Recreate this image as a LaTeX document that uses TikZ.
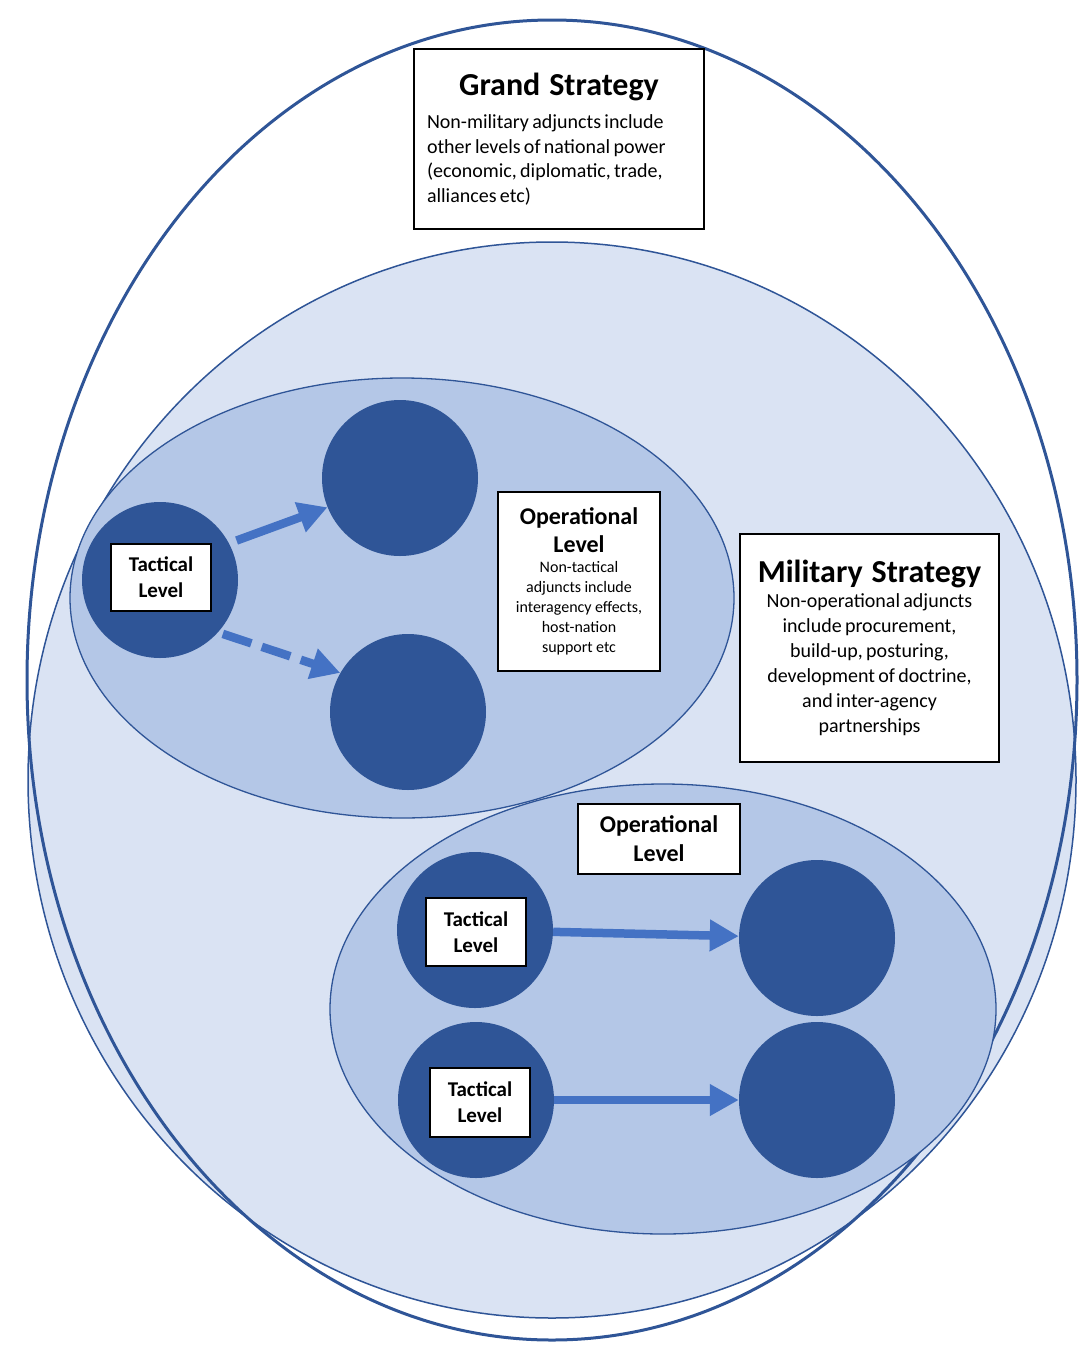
\documentclass[tikz,border=0pt]{standalone}
\usepackage{fontspec}
\setmainfont{Carlito}
\usetikzlibrary{arrows.meta}
\definecolor{darkblue}{HTML}{2F5597}
\definecolor{paleblue}{HTML}{DAE3F3}
\definecolor{midblue}{HTML}{B4C7E7}
\definecolor{arrowblue}{HTML}{4472C4}

\begin{document}
\begin{tikzpicture}[x=1pt,y=-1pt,
    dot/.style={circle,fill=darkblue,minimum size=156pt,inner sep=0pt},
    lbox/.style={draw=black,line width=2pt,fill=white,align=center,inner sep=0pt},
    bigarrow/.style={arrowblue,line width=8.5pt,-{Triangle[length=29pt,width=30pt]}}]
        \path[use as bounding box](0,0) rectangle (1089,1347);
        \draw[darkblue,line width=1.5pt,fill=paleblue](552,780) ellipse [x radius=524pt,y radius=538pt];
        \draw[darkblue,line width=3pt](552,680) ellipse [x radius=525pt,y radius=660pt];
        \draw[darkblue,line width=1.3pt,fill=midblue](663,1009) ellipse [x radius=333pt,y radius=225pt];
        \draw[darkblue,line width=1.3pt,fill=midblue](402,598) ellipse [x radius=332pt,y radius=220pt];

        \node[dot](tacdotone) at (160,580){};
        \node[dot](upperdot) at (400,478){};
        \node[dot](lowerdot) at (408,712){};
        \node[dot](tacdottwo) at (475,930){};
        \node[dot](targettwo) at (817,938){};
        \node[dot](tacdotthree) at (476,1100){};
        \node[dot](targetthree) at (817,1100){};

        \draw[bigarrow,shorten <=8pt](tacdotone.28)--(upperdot.202);
        \draw[bigarrow,dash pattern=on 30pt off 11pt,shorten <=5pt](tacdotone.-42)--(lowerdot.150);
        \draw[bigarrow](tacdottwo)--(targettwo);
        \draw[bigarrow](tacdotthree)--(targetthree);

        \node[lbox,minimum width=290pt,minimum height=180pt,text width=264pt,align=left](grand) at (559,139)
            {{\centering\fontsize{32}{36}\selectfont\bfseries Grand\hspace{9pt}Strategy\par}\vspace{9pt}%
            \fontsize{20}{24.5}\selectfont Non-military adjuncts include\\other levels of national power\\(economic, diplomatic, trade,\\alliances etc)\par};
        \node[lbox,minimum width=162pt,minimum height=179pt,text width=150pt](opone) at (579,581.5)
            {{\fontsize{24}{28}\selectfont\bfseries Operational\\Level\par}%
            \fontsize{16}{20}\selectfont Non-tactical\\adjuncts include\\interagency effects,\\host-nation\\support etc\par};
        \node[lbox,minimum width=259pt,minimum height=228pt,text width=250pt](milstrat) at (869.5,648)
            {{\fontsize{32}{36}\selectfont\bfseries Military\hspace{9pt}Strategy\par}%
            \fontsize{20}{25}\selectfont Non-operational adjuncts\\include procurement,\\build-up, posturing,\\development of doctrine,\\and inter-agency\\partnerships\par};
        \node[lbox,minimum width=162pt,minimum height=70pt,text width=150pt,font=\fontsize{24}{29}\selectfont\bfseries](optwo) at (659,839){Operational\\Level};

        \node[lbox,minimum width=100pt,minimum height=67pt,text width=96pt,font=\fontsize{21}{26}\selectfont\bfseries](tacone) at (161,577.5){Tactical\\Level};
        \node[lbox,minimum width=100pt,minimum height=68pt,text width=96pt,font=\fontsize{21}{26}\selectfont\bfseries](tactwo) at (476,932){Tactical\\Level};
        \node[lbox,minimum width=100pt,minimum height=69pt,text width=96pt,font=\fontsize{21}{26}\selectfont\bfseries](tacthree) at (480,1102.5){Tactical\\Level};
    \end{tikzpicture}
\end{document}
